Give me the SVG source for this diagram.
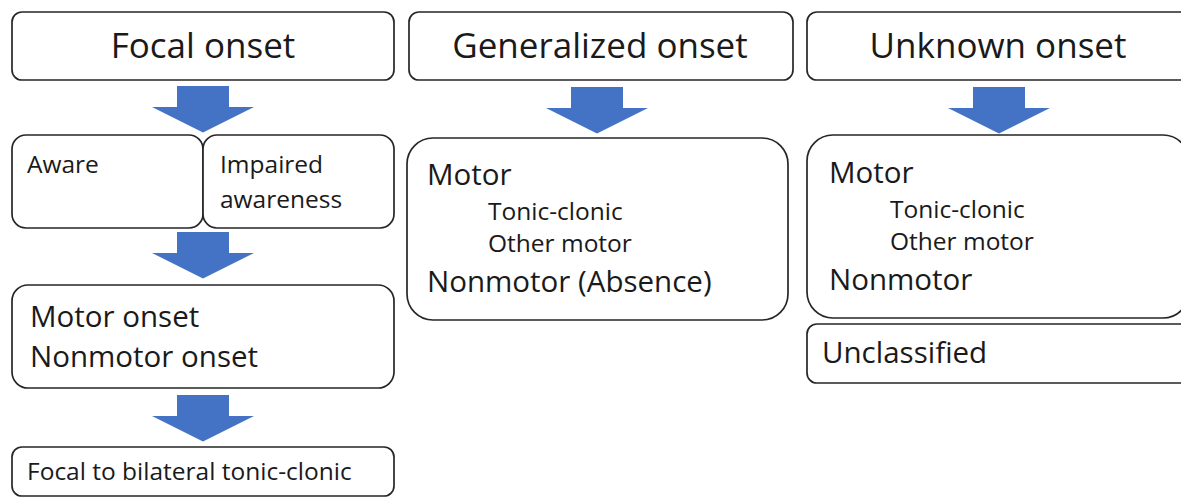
<svg xmlns="http://www.w3.org/2000/svg" width="1181" height="497" viewBox="0 0 1181 497">
  <style>
    .box { fill: #ffffff; stroke: #262626; stroke-width: 1.7; }
    .arrow { fill: #4472C4; }
    text { font-family: "Open Sans", "Noto Sans", "Liberation Sans", sans-serif; fill: #1a1a1a; }
    .h { font-size: 35px; text-anchor: middle; }
    .l { font-size: 29.5px; }
    .s { font-size: 24.5px; }
  </style>
  <defs>
    <!-- block arrow pointing down; origin at top centre of the shaft -->
    <path id="down" class="arrow" d="M -26,0 H 26 V 21 H 51 L 0 46.5 L -51 21 H -26 Z"/>
  </defs>

  <rect width="1181" height="497" fill="#ffffff"/>

  <!-- connectors -->
  <g id="connectors">
    <use href="#down" x="203" y="86"/>
    <use href="#down" x="203" y="232"/>
    <use href="#down" x="203" y="395"/>
    <use href="#down" x="597" y="87"/>
    <use href="#down" x="999" y="87"/>
  </g>

  <!-- focal column -->
  <g id="focal-onset">
    <rect class="box" x="12" y="12" width="382" height="68" rx="10"/>
    <text class="h" x="203" y="58">Focal onset</text>
  </g>
  <g id="aware">
    <rect class="box" x="12" y="135" width="191" height="93" rx="14"/>
    <text class="s" x="27" y="173">Aware</text>
  </g>
  <g id="impaired-awareness">
    <rect class="box" x="203" y="135" width="191" height="93" rx="14"/>
    <text class="s" x="220" y="173">Impaired</text>
    <text class="s" x="220" y="208">awareness</text>
  </g>
  <g id="focal-motor">
    <rect class="box" x="12" y="285" width="382" height="103" rx="16"/>
    <text class="l" x="30" y="327">Motor onset</text>
    <text class="l" x="30" y="367">Nonmotor onset</text>
  </g>
  <g id="focal-bilateral">
    <rect class="box" x="12" y="447" width="382" height="49" rx="10"/>
    <text class="s" x="27" y="480">Focal to bilateral tonic-clonic</text>
  </g>

  <!-- generalized column -->
  <g id="generalized-onset">
    <rect class="box" x="409" y="12" width="384" height="68" rx="10"/>
    <text class="h" x="600" y="58">Generalized onset</text>
  </g>
  <g id="generalized-types">
    <rect class="box" x="407" y="138" width="381" height="182" rx="26"/>
    <text class="l" x="427" y="185">Motor</text>
    <text class="s" x="488" y="220">Tonic-clonic</text>
    <text class="s" x="488" y="252">Other motor</text>
    <text class="l" x="427" y="292">Nonmotor (Absence)</text>
  </g>

  <!-- unknown column -->
  <g id="unknown-onset">
    <rect class="box" x="807" y="12" width="400" height="68" rx="10"/>
    <text class="h" x="998" y="58">Unknown onset</text>
  </g>
  <g id="unknown-types">
    <rect class="box" x="807" y="135" width="382" height="183" rx="26"/>
    <text class="l" x="829" y="183">Motor</text>
    <text class="s" x="890" y="218">Tonic-clonic</text>
    <text class="s" x="890" y="250">Other motor</text>
    <text class="l" x="829" y="290">Nonmotor</text>
  </g>
  <g id="unclassified">
    <rect class="box" x="807" y="324" width="400" height="59" rx="10"/>
    <text class="l" x="822" y="363">Unclassified</text>
  </g>
</svg>
